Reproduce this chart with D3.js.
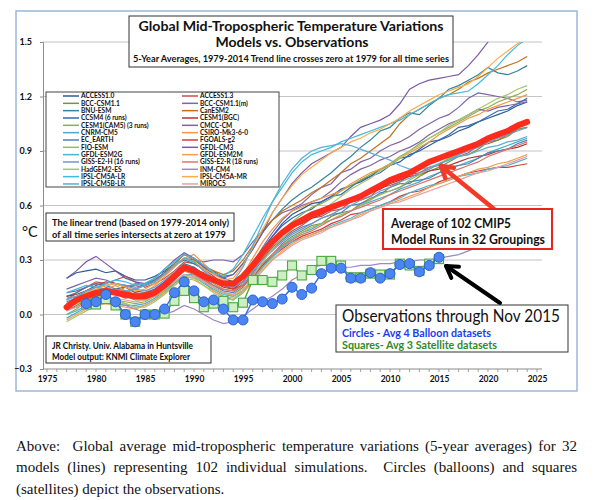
<!DOCTYPE html>
<html>
<head>
<meta charset="utf-8">
<script src="https://cdn.jsdelivr.net/npm/d3@7"></script>
<style>
  body { margin: 0; background: #fff; }
  svg { display: block; font-family: Lato, "Open Sans", sans-serif; }
</style>
</head>
<body>
<svg id="chart" width="599" height="500"></svg>
<script>
// 5-year running means, 1977-2024 (models) and 1979-2015 (observations)
const years = d3.range(1977, 2025);
const obsYears = d3.range(1979, 2016);
const yTicks = [-0.3, 0, 0.3, 0.6, 0.9, 1.2, 1.5];
const xTicks = [1975, 1980, 1985, 1990, 1995, 2000, 2005, 2010, 2015, 2020, 2025];

const balloon = [0.06, 0.07, 0.11, 0.07, 0.00, -0.04, 0.00, 0.00, 0.03, 0.12, 0.18, 0.13, 0.07, 0.08, 0.03, -0.03, -0.03,
  0.08, 0.07, 0.06, 0.085, 0.15, 0.11, 0.145, 0.225, 0.255, 0.255, 0.20, 0.20, 0.23, 0.20, 0.225, 0.275, 0.28, 0.235, 0.27, 0.315];
const satellite = [0.055, 0.055, 0.085, 0.05, 0.00, -0.04, 0.00, 0.00, 0.005, 0.075, 0.13, 0.09, 0.04, 0.06, 0.075, 0.04, 0.065,
  0.19, 0.19, 0.18, 0.215, 0.27, 0.215, 0.245, 0.295, 0.295, 0.27, 0.205, 0.205, 0.225, 0.22, 0.22, 0.28, 0.27, 0.24, 0.28, 0.305];

const cmipMean = [0.04, 0.08, 0.10, 0.12, 0.13, 0.12, 0.11, 0.10, 0.10, 0.12, 0.16, 0.21, 0.26, 0.24, 0.21, 0.19,
  0.17, 0.17, 0.21, 0.27, 0.34, 0.40, 0.45, 0.49, 0.52, 0.55, 0.57, 0.59, 0.61, 0.63, 0.65, 0.68,
  0.71, 0.74, 0.76, 0.78, 0.81, 0.84, 0.86, 0.88, 0.90, 0.92, 0.94, 0.97, 0.99, 1.01, 1.04, 1.06];

const modelNames = ['ACCESS1.0', 'ACCESS1.3', 'BCC-CSM1.1', 'BCC-CSM1.1(m)', 'BNU-ESM', 'CanESM2', 'CCSM4 (6 runs)',
  'CESM1(BGC)', 'CESM1(CAM5) (3 runs)', 'CMCC-CM', 'CNRM-CM5', 'CSIRO-Mk3-6-0', 'EC_EARTH', 'FGOALS-g2', 'FIO-ESM',
  'GFDL-CM3', 'GFDL-ESM2G', 'GFDL-ESM2M', 'GISS-E2-H (16 runs)', 'GISS-E2-R (18 runs)', 'HadGEM2-ES', 'INM-CM4',
  'IPSL-CM5A-LR', 'IPSL-CM5A-MR', 'IPSL-CM5B-LR', 'MIROC5'];

const access10 = [0.20,0.23,0.24,0.25,0.23,0.24,0.21,0.19, 0.19,0.21,0.24,0.28,0.33,0.31,0.27,0.24, 0.20,0.18,0.22,0.29,0.36,0.43,0.50,0.55,
  0.58,0.61,0.62,0.65,0.69,0.71,0.73,0.76, 0.80,0.82,0.84,0.88,0.90,0.93,0.96,0.98, 1.01,1.03,1.06,1.08,1.10,1.12,1.15,1.17];
const access13 = [0.08,0.12,0.15,0.18,0.17,0.19,0.21,0.18, 0.15,0.17,0.20,0.24,0.29,0.28,0.25,0.21, 0.17,0.15,0.18,0.25,0.31,0.37,0.42,0.46,
  0.49,0.53,0.54,0.57,0.58,0.62,0.63,0.65, 0.70,0.71,0.73,0.77,0.78,0.81,0.82,0.86, 0.87,0.89,0.93,0.94,0.96,0.99,1.02,1.03];
const bcc11 = [0.02,0.05,0.08,0.10,0.11,0.12,0.10,0.08, 0.08,0.10,0.14,0.19,0.24,0.23,0.19,0.15, 0.12,0.11,0.15,0.22,0.28,0.33,0.39,0.43,
  0.46,0.49,0.50,0.54,0.56,0.57,0.61,0.64, 0.66,0.70,0.72,0.72,0.76,0.79,0.81,0.84, 0.87,0.88,0.91,0.95,0.96,0.98,1.02,1.03];
const bcc11m = [0.14,0.16,0.18,0.20,0.19,0.17,0.16,0.15, 0.16,0.18,0.22,0.27,0.31,0.30,0.29,0.30, 0.30,0.29,0.33,0.40,0.46,0.52,0.56,0.58,
  0.61,0.66,0.70,0.72,0.78,0.80,0.84,0.86, 0.90,0.93,0.95,0.98,1.02,1.05,1.08,1.10, 1.14,1.19,1.22,1.21,1.20,1.19,1.17,1.18];
const bnuEsm = [0.10,0.12,0.15,0.17,0.16,0.14,0.15,0.16, 0.17,0.19,0.23,0.27,0.30,0.28,0.25,0.23, 0.21,0.22,0.28,0.36,0.45,0.52,0.58,0.63,
  0.67,0.70,0.74,0.78,0.83,0.87,0.92,0.96, 1.01,1.03,1.08,1.11,1.10,1.15,1.19,1.24, 1.26,1.29,1.32,1.36,1.33,1.32,1.34,1.37];
const canEsm2 = [0.06,0.09,0.13,0.15,0.14,0.13,0.15,0.17, 0.16,0.18,0.23,0.28,0.33,0.30,0.26,0.24, 0.22,0.24,0.30,0.38,0.46,0.52,0.57,0.60,
  0.63,0.67,0.70,0.74,0.78,0.83,0.86,0.90, 0.94,0.98,1.05,1.10,1.13,1.16,1.19,1.21, 1.24,1.28,1.30,1.33,1.35,1.37,1.39,1.42];
const ccsm4 = [0.05,0.08,0.12,0.13,0.12,0.14,0.15,0.13, 0.12,0.14,0.18,0.23,0.28,0.26,0.22,0.18, 0.16,0.16,0.21,0.28,0.36,0.43,0.49,0.53,
  0.56,0.58,0.62,0.65,0.66,0.70,0.74,0.76, 0.78,0.82,0.86,0.87,0.91,0.95,0.96,0.99, 1.03,1.04,1.06,1.09,1.12,1.13,1.16,1.19];
const cesmBgc = [0.10,0.11,0.13,0.16,0.18,0.17,0.15,0.12, 0.11,0.13,0.16,0.21,0.25,0.26,0.22,0.18, 0.15,0.14,0.18,0.25,0.33,0.39,0.44,0.48,
  0.50,0.53,0.55,0.58,0.61,0.63,0.65,0.67, 0.69,0.72,0.74,0.76,0.77,0.79,0.80,0.82, 0.84,0.86,0.87,0.88,0.90,0.91,0.92,0.94];
const cesmCam5 = [0.00,0.03,0.07,0.09,0.10,0.08,0.07,0.06, 0.07,0.10,0.14,0.20,0.25,0.24,0.21,0.17, 0.14,0.13,0.17,0.25,0.33,0.40,0.46,0.51,
  0.55,0.59,0.61,0.64,0.68,0.71,0.74,0.77, 0.80,0.83,0.87,0.90,0.94,0.97,1.00,1.03, 1.06,1.09,1.12,1.14,1.17,1.19,1.21,1.24];
const cmccCm = [0.12,0.13,0.15,0.17,0.15,0.13,0.12,0.14, 0.16,0.19,0.23,0.27,0.31,0.29,0.24,0.20, 0.17,0.15,0.20,0.28,0.37,0.45,0.52,0.57,
  0.60,0.62,0.64,0.68,0.73,0.77,0.80,0.82, 0.85,0.87,0.90,0.92,0.95,0.99,1.02,1.05, 1.07,1.10,1.13,1.12,1.14,1.15,1.16,1.17];
const cnrmCm5 = [-0.02,0.01,0.04,0.06,0.07,0.06,0.05,0.05, 0.06,0.09,0.13,0.18,0.22,0.21,0.17,0.14, 0.11,0.10,0.13,0.20,0.27,0.33,0.38,0.42,
  0.45,0.47,0.50,0.52,0.54,0.57,0.60,0.62, 0.64,0.66,0.69,0.71,0.73,0.76,0.78,0.80, 0.82,0.84,0.86,0.89,0.91,0.93,0.95,0.97];
const csiro = [0.04,0.06,0.09,0.12,0.14,0.16,0.13,0.11, 0.12,0.16,0.21,0.26,0.31,0.33,0.28,0.23, 0.19,0.17,0.22,0.31,0.40,0.47,0.53,0.57,
  0.59,0.62,0.64,0.66,0.68,0.72,0.75,0.78, 0.80,0.83,0.86,0.89,0.92,0.95,0.99,1.02, 1.05,1.08,1.10,1.13,1.15,1.17,1.19,1.21];
const ecEarth = [0.07,0.09,0.11,0.13,0.12,0.11,0.10,0.09, 0.10,0.13,0.17,0.22,0.27,0.24,0.20,0.16, 0.13,0.12,0.16,0.23,0.30,0.36,0.41,0.45,
  0.48,0.50,0.53,0.55,0.56,0.60,0.61,0.63, 0.67,0.68,0.70,0.73,0.74,0.75,0.78,0.81, 0.82,0.83,0.86,0.89,0.90,0.91,0.94,0.96];
const fgoals = [0.03,0.04,0.07,0.10,0.12,0.11,0.09,0.10, 0.12,0.13,0.16,0.20,0.24,0.25,0.23,0.19, 0.16,0.14,0.16,0.21,0.27,0.32,0.36,0.40,
  0.43,0.45,0.47,0.50,0.52,0.55,0.56,0.58, 0.60,0.62,0.65,0.67,0.68,0.70,0.73,0.75, 0.76,0.78,0.79,0.80,0.81,0.81,0.82,0.83];
const fioEsm = [0.05,0.06,0.08,0.09,0.11,0.12,0.11,0.09, 0.08,0.10,0.13,0.17,0.21,0.20,0.18,0.15, 0.12,0.10,0.13,0.19,0.26,0.31,0.37,0.41,
  0.45,0.48,0.50,0.52,0.55,0.57,0.60,0.63, 0.66,0.68,0.70,0.74,0.77,0.80,0.83,0.86, 0.88,0.91,0.93,0.96,0.98,1.01,1.03,1.06];
const gfdlCm3 = [0.20,0.24,0.29,0.32,0.28,0.24,0.20,0.18, 0.17,0.20,0.25,0.30,0.34,0.31,0.26,0.22, 0.20,0.22,0.28,0.36,0.45,0.56,0.64,0.72,
  0.78,0.83,0.86,0.89,0.92,0.98,1.03,1.05, 1.07,1.10,1.16,1.24,1.27,1.29,1.30,1.31, 1.32,1.37,1.43,1.50,1.56,1.61,1.65,1.70];
const gfdlEsm2g = [0.00,0.02,0.05,0.08,0.09,0.07,0.06,0.04, 0.05,0.08,0.12,0.17,0.22,0.22,0.18,0.13, 0.10,0.08,0.12,0.19,0.26,0.32,0.37,0.40,
  0.42,0.44,0.46,0.49,0.51,0.53,0.56,0.58, 0.60,0.62,0.64,0.67,0.69,0.71,0.72,0.74, 0.76,0.77,0.78,0.80,0.81,0.82,0.84,0.86];
const gfdlEsm2m = [-0.03,0.00,0.03,0.05,0.06,0.05,0.04,0.03, 0.05,0.08,0.12,0.16,0.20,0.19,0.16,0.13, 0.10,0.09,0.12,0.18,0.24,0.30,0.35,0.39,
  0.42,0.44,0.46,0.48,0.50,0.52,0.55,0.57, 0.59,0.61,0.63,0.65,0.67,0.70,0.72,0.74, 0.76,0.78,0.80,0.81,0.83,0.84,0.86,0.88];
const gissE2h = [0.09,0.10,0.12,0.15,0.16,0.17,0.16,0.14, 0.13,0.15,0.19,0.23,0.26,0.25,0.22,0.19, 0.16,0.15,0.18,0.24,0.30,0.35,0.40,0.44,
  0.47,0.50,0.53,0.55,0.58,0.60,0.63,0.65, 0.68,0.70,0.73,0.75,0.78,0.80,0.83,0.85, 0.88,0.90,0.92,0.95,0.97,0.99,1.01,1.03];
const gissE2r = [0.06,0.08,0.10,0.11,0.13,0.14,0.13,0.11, 0.10,0.12,0.16,0.20,0.24,0.22,0.19,0.16, 0.14,0.13,0.16,0.22,0.28,0.33,0.38,0.41,
  0.44,0.46,0.49,0.52,0.54,0.57,0.59,0.61, 0.63,0.66,0.68,0.70,0.72,0.74,0.76,0.78, 0.80,0.82,0.84,0.87,0.89,0.91,0.93,0.95];
const hadGem2 = [-0.04,-0.01,0.02,0.05,0.07,0.08,0.06,0.04, 0.04,0.07,0.11,0.16,0.21,0.20,0.16,0.12, 0.09,0.08,0.13,0.21,0.29,0.36,0.42,0.47,
  0.51,0.54,0.57,0.61,0.65,0.69,0.72,0.75, 0.79,0.82,0.86,0.90,0.93,0.97,1.00,1.04, 1.07,1.10,1.13,1.16,1.19,1.21,1.24,1.26];
const inmCm4 = [0.03,0.04,0.06,0.08,0.07,0.06,0.05,0.03, 0.01,-0.01,0.00,0.02,0.05,0.03,0.00,-0.03, -0.05,-0.04,-0.01,0.03,0.07,0.10,0.14,0.19,
  0.22,0.26,0.27,0.27,0.26,0.26,0.27,0.27, 0.28,0.28,0.29,0.29,0.30,0.30,0.31,0.32, 0.33,0.35,0.37,0.39,0.40,0.42,0.44,0.46];
const ipsl5aLr = [0.12,0.14,0.16,0.15,0.17,0.19,0.18,0.16, 0.17,0.20,0.25,0.29,0.33,0.31,0.27,0.23, 0.21,0.25,0.33,0.43,0.53,0.62,0.70,0.78,
  0.84,0.88,0.90,0.92,0.95,0.97,0.99,1.01, 1.03,1.05,1.07,1.10,1.13,1.16,1.19,1.21, 1.22,1.23,1.27,1.32,1.37,1.43,1.48,1.52];
const ipsl5aMr = [0.05,0.08,0.12,0.14,0.16,0.17,0.15,0.13, 0.14,0.17,0.22,0.27,0.31,0.29,0.25,0.22, 0.19,0.20,0.27,0.37,0.47,0.56,0.64,0.71,
  0.77,0.81,0.85,0.89,0.92,0.95,0.97,1.00, 1.02,1.05,1.08,1.12,1.15,1.18,1.21,1.23, 1.25,1.27,1.31,1.36,1.41,1.45,1.49,1.53];
const ipsl5bLr = [0.08,0.10,0.13,0.15,0.14,0.12,0.13,0.14, 0.16,0.18,0.22,0.27,0.31,0.29,0.24,0.20, 0.17,0.18,0.26,0.38,0.50,0.62,0.72,0.80,
  0.86,0.90,0.92,0.93,0.94,0.93,0.91,0.89, 0.87,0.85,0.82,0.80,0.80,0.81,0.83,0.85, 0.87,0.88,0.90,0.92,0.93,0.95,0.96,0.98];
const miroc5 = [0.02,0.04,0.06,0.09,0.10,0.09,0.08,0.07, 0.08,0.10,0.14,0.18,0.22,0.21,0.18,0.15, 0.12,0.11,0.14,0.19,0.25,0.30,0.34,0.38,
  0.41,0.43,0.45,0.48,0.50,0.52,0.54,0.57, 0.59,0.61,0.62,0.64,0.66,0.68,0.70,0.72, 0.74,0.76,0.78,0.79,0.81,0.83,0.85,0.87];

const modelValues = [access10, access13, bcc11, bcc11m, bnuEsm, canEsm2, ccsm4, cesmBgc, cesmCam5, cmccCm, cnrmCm5, csiro,
  ecEarth, fgoals, fioEsm, gfdlCm3, gfdlEsm2g, gfdlEsm2m, gissE2h, gissE2r, hadGem2, inmCm4, ipsl5aLr, ipsl5aMr, ipsl5bLr, miroc5];

// excel-ish palette, one per model (legend order)
const modelColors = ['#2c5d98', '#c0504d', '#77933c', '#7f64a8', '#31859c', '#c4711e', '#376bb3', '#b03535', '#8db04f',
  '#8064a2', '#4bacc6', '#f79646', '#4f81bd', '#d23c36', '#9bbb59', '#7a5aa6', '#4fb5cf', '#f0a050', '#6f97d0', '#e2716c',
  '#a8c66c', '#9c88c2', '#3fbbe0', '#fbab4c', '#5aaed0', '#e8a09c'];

const svg = d3.select('#chart');
const plot = { left: 43, right: 542, top: 42, bottom: 369 };

const x = d3.scaleLinear().domain([1975, 2025]).range([47, 537]);
const y = d3.scaleLinear().domain([-0.3, 1.5]).range([369, 42]);

// chart frame
svg.append('rect').attr('x', 16).attr('y', 11).attr('width', 561).attr('height', 380)
    .attr('fill', '#fff').attr('stroke', '#9db7d8').attr('stroke-width', 1.5);

svg.append('clipPath').attr('id', 'clip')
  .append('rect').attr('x', plot.left).attr('y', plot.top).attr('width', plot.right - plot.left).attr('height', plot.bottom - plot.top);

// gridlines
svg.append('g').selectAll('line').data(yTicks.filter(d => d > -0.3)).join('line')
    .attr('x1', plot.left).attr('x2', plot.right)
    .attr('y1', d => y(d)).attr('y2', d => y(d))
    .attr('stroke', '#c4c4c4').attr('stroke-width', 1.2);

// y axis
const yAxis = svg.append('g').attr('transform', `translate(${plot.left},0)`)
    .call(d3.axisLeft(y).tickValues(yTicks).tickFormat(d3.format('.1f')).tickSize(3).tickPadding(8));
yAxis.select('.domain').attr('stroke', '#8c8c8c');
yAxis.selectAll('.tick line').attr('stroke', '#8c8c8c');
yAxis.selectAll('text').attr('font-size', 9).attr('font-weight', 'bold').attr('fill', '#111')
    .attr('font-family', 'Lato, sans-serif');

// x axis
const xAxis = svg.append('g').attr('transform', `translate(0,${plot.bottom})`)
    .call(d3.axisBottom(x).tickValues(xTicks).tickFormat(d3.format('d')).tickSize(0).tickPadding(7));
xAxis.select('.domain').remove();
xAxis.selectAll('text').attr('font-size', 8.5).attr('font-weight', 'bold').attr('fill', '#111')
    .attr('font-family', 'Lato, sans-serif');
svg.append('line').attr('x1', plot.left).attr('x2', plot.right).attr('y1', plot.bottom).attr('y2', plot.bottom)
    .attr('stroke', '#8c8c8c');
svg.append('g').selectAll('line').data(d3.range(1975, 2026)).join('line')
    .attr('x1', d => x(d)).attr('x2', d => x(d))
    .attr('y1', plot.bottom).attr('y2', plot.bottom + 3)
    .attr('stroke', '#8c8c8c').attr('stroke-width', 0.8);

svg.append('text').attr('x', 22).attr('y', 237).attr('font-size', 14.5).attr('fill', '#111').text('°C');

// model spaghetti
const line = d3.line().x((d, i) => x(years[i])).y(d => y(d));
const lines = svg.append('g').attr('clip-path', 'url(#clip)');
lines.selectAll('path').data(modelValues).join('path')
    .attr('d', line)
    .attr('fill', 'none')
    .attr('stroke', (d, i) => modelColors[i])
    .attr('stroke-width', 1.2);

// multi-model mean
lines.append('path').attr('d', line(cmipMean))
    .attr('fill', 'none').attr('stroke', '#ff2b1c').attr('stroke-width', 6)
    .attr('stroke-linejoin', 'round').attr('stroke-linecap', 'round');

// observations
const obsLine = d3.line().x((d, i) => x(obsYears[i])).y(d => y(d));
svg.append('path').attr('d', obsLine(satellite)).attr('fill', 'none')
    .attr('stroke', '#4ea843').attr('stroke-width', 1.4);
svg.append('g').selectAll('rect').data(satellite).join('rect')
    .attr('x', (d, i) => x(obsYears[i]) - 4.5).attr('y', d => y(d) - 4.5)
    .attr('width', 9).attr('height', 9)
    .attr('fill', '#ccefc4').attr('stroke', '#4ea843').attr('stroke-width', 1.1);
svg.append('path').attr('d', obsLine(balloon)).attr('fill', 'none')
    .attr('stroke', '#2f6ee8').attr('stroke-width', 1.4);
svg.append('g').selectAll('circle').data(balloon).join('circle')
    .attr('cx', (d, i) => x(obsYears[i])).attr('cy', d => y(d)).attr('r', 5)
    .attr('fill', '#4a85f2').attr('stroke', '#2d62d0').attr('stroke-width', 1);

// text boxes
function box(x0, y0, w, h, stroke, sw) {
  svg.append('rect').attr('x', x0).attr('y', y0).attr('width', w).attr('height', h)
      .attr('fill', '#fff').attr('stroke', stroke).attr('stroke-width', sw);
}
function label(str, tx, ty, size, opts = {}) {
  const t = svg.append('text').attr('x', tx).attr('y', ty).attr('font-size', size)
      .attr('font-weight', opts.weight || 'bold').attr('fill', opts.fill || '#111')
      .attr('text-anchor', opts.anchor || 'start').text(str);
  if (opts.len) t.attr('textLength', opts.len).attr('lengthAdjust', 'spacingAndGlyphs');
  return t;
}

// title
box(129, 16, 324, 51, '#333', 1);
label('Global Mid-Tropospheric Temperature Variations', 291, 30.5, 13.5, { anchor: 'middle', len: 305 });
label('Models vs. Observations', 292, 47, 13.5, { anchor: 'middle', len: 153 });
label('5-Year Averages, 1979-2014 Trend line crosses zero at 1979 for all time series', 291, 62, 9.5, { anchor: 'middle', len: 316 });

// legend (row-major, two columns like excel)
box(46, 92, 233, 95, '#444', 1);
const leg = svg.append('g').selectAll('g').data(modelNames).join('g')
    .attr('transform', (d, i) => `translate(${i % 2 ? 182 : 63},${96 + Math.floor(i / 2) * 7.33})`);
leg.append('line').attr('x1', 0).attr('x2', 16).attr('y1', 0).attr('y2', 0)
    .attr('stroke', (d, i) => modelColors[i]).attr('stroke-width', 1.5);
leg.append('text').attr('x', 18).attr('y', 2.3).attr('font-size', 6.6).attr('font-weight', 'bold')
    .attr('fill', '#111').text(d => d);

// trend note
box(46, 213, 188, 28, '#333', 1);
label('The linear trend (based on 1979-2014 only)', 52, 226, 9.5, { len: 177 });
label('of all time series intersects at zero at 1979', 52, 237.5, 9.5, { len: 174 });

// credit
box(46, 336, 165, 27, '#333', 1);
label('JR Christy. Univ. Alabama in Huntsville', 52, 349, 8.5, { len: 141 });
label('Model output: KNMI Climate Explorer', 52, 359.5, 8.5, { len: 138 });

// arrows
function arrow(x1, y1, x2, y2, color, w) {
  const ang = Math.atan2(y2 - y1, x2 - x1), L = 13, a = 0.55;
  const g = svg.append('g').attr('stroke', color).attr('stroke-width', w).attr('fill', 'none')
      .attr('stroke-linecap', 'round').attr('stroke-linejoin', 'round');
  g.append('line').attr('x1', x1).attr('y1', y1).attr('x2', x2).attr('y2', y2);
  g.append('polyline').attr('points', [
    [x2 - L * Math.cos(ang - a), y2 - L * Math.sin(ang - a)], [x2, y2],
    [x2 - L * Math.cos(ang + a), y2 - L * Math.sin(ang + a)]].map(p => p.join(',')).join(' '));
}
arrow(494, 209, 441, 166, '#f23a28', 4.5);
arrow(500, 303, 446, 266, '#000', 4);

// model mean note
box(383, 209, 169, 40, '#e8261c', 2);
label('Average of 102 CMIP5', 391, 227.5, 12.5, { len: 120 });
label('Model Runs in 32 Groupings', 391, 243.5, 12.5, { len: 154 });

// observations note
box(336, 305, 232, 47, '#333', 1);
label('Observations through Nov 2015', 342, 322, 17, { weight: 'normal', len: 218 });
label('Circles - Avg 4 Balloon datasets', 342, 337, 10.5, { fill: '#1c3cf0', len: 149 });
label('Squares- Avg 3 Satellite datasets', 342, 349, 10.5, { fill: '#2e8a2a', len: 155 });

// caption under the figure, first two lines justified
const caption = [
  'Above:  Global average mid-tropospheric temperature variations (5-year averages) for 32',
  'models (lines) representing 102 individual simulations.  Circles (balloons) and squares',
  '(satellites) depict the observations.'
];
caption.forEach((s, i) => {
  const t = svg.append('text').attr('x', 16).attr('y', 451 + i * 21.3)
      .attr('font-family', '"Liberation Serif", "Times New Roman", serif')
      .attr('font-size', 15).attr('fill', '#111').style('white-space', 'pre').text(s);
  if (i < 2) {
    const w = t.node().getComputedTextLength();
    const gaps = (s.match(/ /g) || []).length;
    t.attr('word-spacing', (577 - 16 - w) / gaps);
  }
});
</script>
</body>
</html>
